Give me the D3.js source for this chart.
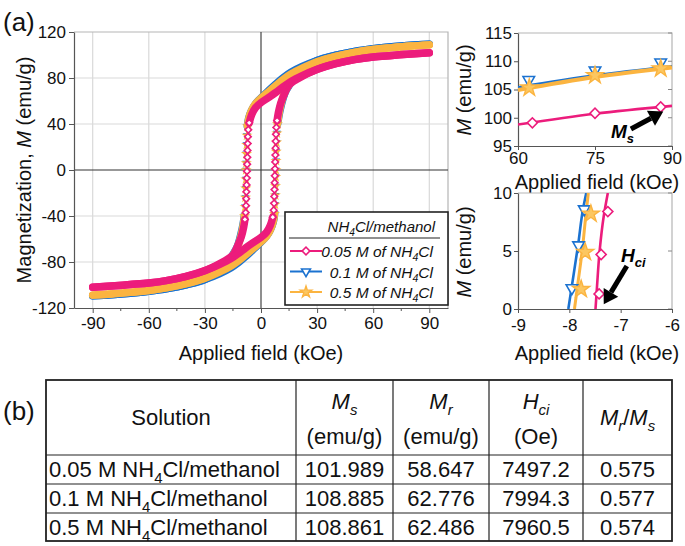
<!DOCTYPE html>
<html>
<head>
<meta charset="utf-8">
<script src="https://cdn.jsdelivr.net/npm/d3@7"></script>
<style>
  html, body { margin: 0; padding: 0; background: #fff; }
  svg { display: block; font-family: "Liberation Sans", Arial, sans-serif; }
</style>
</head>
<body>
<svg id="fig" width="685" height="546"></svg>
<script>
// ---- data ----
const seriesNames = ['0.05 M of NH4Cl', '0.1 M of NH4Cl', '0.5 M of NH4Cl'];
const fieldTicks = [-90, -60, -30, 0, 30, 60, 90];
const fieldMinor = [-75, -45, -15, 15, 45, 75];
const magTicks = [-120, -80, -40, 0, 40, 80, 120];

// main loop, [field kOe, M emu/g]; "desc" = field going down, "asc" = field going up
const pinkDesc = [[90,102.0],[80,100.9],[70,99.6],[60,98.3],[50,96.0],[40,92.5],[30,87.5],[22,82.0],[16,77.0],[12,72.5],[8,67.5],[4,63.0],[0,58.6],[-3,54.0],[-5,48.0],[-6.3,41.0],[-6.8,35.0],[-7.0,29.0],[-7.1,23.0],[-7.2,17.0],[-7.3,11.0],[-7.4,5.0],[-7.5,-1.0],[-7.6,-7.0],[-7.7,-13.0],[-7.8,-19.0],[-7.9,-25.0],[-8.0,-31.0],[-8.2,-37.0],[-8.6,-43.0],[-9.3,-50.0],[-10.5,-58.0],[-12.5,-66.0],[-15,-74.0],[-20,-79.5],[-30,-87.5],[-40,-92.5],[-50,-96.0],[-60,-98.3],[-70,-99.6],[-80,-100.9],[-90,-102.0]];
const pinkAsc = [[-90,-102.0],[-80,-100.9],[-70,-99.6],[-60,-98.3],[-50,-96.0],[-40,-92.5],[-30,-87.5],[-22,-82.0],[-16,-77.0],[-12,-72.5],[-8,-67.5],[-4,-63.0],[0,-58.6],[3,-54.0],[5,-48.0],[6.3,-41.0],[6.8,-35.0],[7.0,-29.0],[7.1,-23.0],[7.2,-17.0],[7.3,-11.0],[7.4,-5.0],[7.5,1.0],[7.6,7.0],[7.7,13.0],[7.8,19.0],[7.9,25.0],[8.0,31.0],[8.2,37.0],[8.6,43.0],[9.3,50.0],[10.5,58.0],[12.5,66.0],[15,74.0],[20,79.5],[30,87.5],[40,92.5],[50,96.0],[60,98.3],[70,99.6],[80,100.9],[90,102.0]];
const blueDesc = [[90,109.3],[80,108.4],[70,107.1],[60,105.4],[50,103.1],[40,99.8],[30,95.2],[22,90.0],[16,85.0],[12,80.5],[8,75.0],[4,69.0],[0,62.8],[-3,57.5],[-5,52.0],[-6.6,45.0],[-7.3,38.0],[-7.6,30.0],[-7.75,22.0],[-7.85,14.0],[-7.92,6.0],[-7.99,0.0],[-8.1,-8.0],[-8.2,-16.0],[-8.35,-24.0],[-8.55,-32.0],[-8.9,-40.0],[-9.7,-48.0],[-10.8,-56.0],[-12.8,-67.0],[-15.5,-74.5],[-20,-85.0],[-30,-95.2],[-40,-99.8],[-50,-103.1],[-60,-105.4],[-70,-107.1],[-80,-108.4],[-90,-109.3]];
const blueAsc = [[-90,-109.3],[-80,-108.4],[-70,-107.1],[-60,-105.4],[-50,-103.1],[-40,-99.8],[-30,-95.2],[-22,-90.0],[-16,-85.0],[-12,-80.5],[-8,-75.0],[-4,-69.0],[0,-62.8],[3,-57.5],[5,-52.0],[6.6,-45.0],[7.3,-38.0],[7.6,-30.0],[7.75,-22.0],[7.85,-14.0],[7.92,-6.0],[7.99,0.0],[8.1,8.0],[8.2,16.0],[8.35,24.0],[8.55,32.0],[8.9,40.0],[9.7,48.0],[10.8,56.0],[12.8,67.0],[15.5,74.5],[20,85.0],[30,95.2],[40,99.8],[50,103.1],[60,105.4],[70,107.1],[80,108.4],[90,109.3]];
const orangeDesc = [[90,108.8],[80,107.8],[70,106.4],[60,104.8],[50,102.3],[40,98.8],[30,94.0],[22,88.5],[16,83.5],[12,79.0],[8,73.5],[4,68.0],[0,62.5],[-3,57.5],[-5,52.0],[-6.5,45.0],[-7.2,38.0],[-7.5,30.0],[-7.65,22.0],[-7.75,14.0],[-7.85,6.0],[-7.96,0.0],[-8.05,-8.0],[-8.15,-16.0],[-8.3,-24.0],[-8.5,-32.0],[-8.8,-40.0],[-9.5,-48.0],[-10.5,-56.0],[-12.5,-67.0],[-15,-74.0],[-20,-84.0],[-30,-94.0],[-40,-98.8],[-50,-102.3],[-60,-104.8],[-70,-106.4],[-80,-107.8],[-90,-108.8]];
const orangeAsc = [[-90,-108.8],[-80,-107.8],[-70,-106.4],[-60,-104.8],[-50,-102.3],[-40,-98.8],[-30,-94.0],[-22,-88.5],[-16,-83.5],[-12,-79.0],[-8,-73.5],[-4,-68.0],[0,-62.5],[3,-57.5],[5,-52.0],[6.5,-45.0],[7.2,-38.0],[7.5,-30.0],[7.65,-22.0],[7.75,-14.0],[7.85,-6.0],[7.96,0.0],[8.05,8.0],[8.15,16.0],[8.3,24.0],[8.5,32.0],[8.8,40.0],[9.5,48.0],[10.5,56.0],[12.5,67.0],[15,74.0],[20,84.0],[30,94.0],[40,98.8],[50,102.3],[60,104.8],[70,106.4],[80,107.8],[90,108.8]];

// inset 1 (Ms), field 60-90 kOe
const msFieldTicks = [60, 75, 90];
const msTicks = [95, 100, 105, 110, 115];
const pinkMsLine = [[60,98.8],[75,100.7],[90,102.1]];
const pinkMsPts = [[62.8,99.1],[75,100.8],[87.8,101.9]];
const blueMsLine = [[60,105.4],[75,107.5],[90,109.1]];
const blueMsPts = [[62.1,106.7],[75,108.4],[87.8,109.8]];
const orangeMsLine = [[60,104.9],[75,107.2],[90,108.9]];
const orangeMsPts = [[62.2,105.3],[75,107.5],[87.8,108.7]];

// inset 2 (Hci), field -9 to -6 kOe
const hcFieldTicks = [-9, -8, -7, -6];
const hcTicks = [0, 5, 10];
const pinkHcLine = [[-7.49,0],[-7.46,2],[-7.41,5],[-7.33,8],[-7.25,10]];
const pinkHcPts = [[-7.42,1.3],[-7.38,4.7],[-7.25,8.4]];
const blueHcLine = [[-8.02,0],[-7.95,2],[-7.83,5.5],[-7.73,8.7],[-7.67,10]];
const blueHcPts = [[-7.95,1.8],[-7.82,5.5],[-7.71,8.6]];
const orangeHcLine = [[-7.9,0],[-7.84,2],[-7.75,5],[-7.68,8],[-7.63,10]];
const orangeHcPts = [[-7.77,1.7],[-7.69,4.9],[-7.58,8.2]];

// table (b)
const tableConc = ['0.05', '0.1', '0.5'];
const msValues = ['101.989', '108.885', '108.861'];
const mrValues = ['58.647', '62.776', '62.486'];
const hciValues = ['7497.2', '7994.3', '7960.5'];
const ratioValues = ['0.575', '0.577', '0.574'];

// ---- styling ----
const PINK = '#ec1c7c', BLUE = '#1b72d0', ORANGE = '#fbb440';
const FONT = '"Liberation Sans", Arial, sans-serif';
const plainNum = d => String(d);

const svg = d3.select('#fig');
svg.append('rect').attr('width', 685).attr('height', 546).attr('fill', '#fff');

// marker shapes
const diamondPath = d3.symbol(d3.symbolSquare, 30)();
const trianglePath = d3.symbol(d3.symbolTriangle, 34)();
const starPath = d3.symbol(d3.symbolStar, 40)();

function addMarker(g, kind, px, py, scale) {
    const s = scale || 1;
    if (kind === 'pink') {
        g.append('path').attr('d', diamondPath)
            .attr('transform', `translate(${px},${py}) rotate(45) scale(${s})`)
            .attr('fill', '#fff').attr('stroke', PINK).attr('stroke-width', 1.6 / s);
    } else if (kind === 'blue') {
        g.append('path').attr('d', trianglePath)
            .attr('transform', `translate(${px},${py}) rotate(180) scale(${s})`)
            .attr('fill', '#fff').attr('stroke', BLUE).attr('stroke-width', 1.6 / s);
    } else {
        g.append('path').attr('d', starPath)
            .attr('transform', `translate(${px},${py}) scale(${s})`)
            .attr('fill', '#fcc760').attr('stroke', ORANGE).attr('stroke-width', 1.4 / s);
    }
}

function subText(sel, before, sub, after, size) {
    sel.append('tspan').text(before);
    sel.append('tspan').attr('font-size', size * 0.68).attr('dy', size * 0.28).text(sub);
    sel.append('tspan').attr('dy', -size * 0.28).text(after);
}

function styleAxis(sel, size) {
    sel.selectAll('.domain').attr('stroke', '#555').attr('stroke-width', 1.2);
    sel.selectAll('.tick line').attr('stroke', '#555');
    sel.selectAll('.tick text').attr('fill', '#111').style('font-size', size + 'px').style('font-family', FONT);
}

// ================= main loop (a) =================
const x = d3.scaleLinear().domain([-100, 100]).range([74, 448]);
const y = d3.scaleLinear().domain([-120, 120]).range([308, 32]);
const main = svg.append('g');

// grid
main.selectAll('.vg').data(fieldTicks.filter(d => d !== 0)).join('line')
    .attr('x1', d => x(d)).attr('x2', d => x(d)).attr('y1', y(120)).attr('y2', y(-120))
    .attr('stroke', '#d9d9d9').attr('stroke-width', 1.2);
main.selectAll('.hg').data(magTicks.filter(d => d !== 0 && Math.abs(d) !== 120)).join('line')
    .attr('x1', x(-100)).attr('x2', x(100)).attr('y1', d => y(d)).attr('y2', d => y(d))
    .attr('stroke', '#d9d9d9').attr('stroke-width', 1.2);
// frame top/right
main.append('path').attr('d', `M${x(-100)},${y(120)}H${x(100)}V${y(-120)}`)
    .attr('fill', 'none').attr('stroke', '#b5b5b5').attr('stroke-width', 1.2);
// zero lines
main.append('line').attr('x1', x(0)).attr('x2', x(0)).attr('y1', y(120)).attr('y2', y(-120))
    .attr('stroke', '#333').attr('stroke-width', 1.1);
main.append('line').attr('x1', x(-100)).attr('x2', x(100)).attr('y1', y(0)).attr('y2', y(0))
    .attr('stroke', '#333').attr('stroke-width', 1.1);

// axes
const xAxisG = main.append('g').attr('transform', `translate(0,${y(-120)})`)
    .call(d3.axisBottom(x).tickValues(fieldTicks).tickFormat(plainNum).tickSize(5).tickPadding(4).tickSizeOuter(0));
styleAxis(xAxisG, 17);
main.append('g').attr('transform', `translate(0,${y(-120)})`)
    .selectAll('line').data(fieldMinor).join('line')
    .attr('x1', d => x(d)).attr('x2', d => x(d)).attr('y1', 0).attr('y2', 3).attr('stroke', '#555');
const yAxisG = main.append('g').attr('transform', `translate(${x(-100)},0)`)
    .call(d3.axisLeft(y).tickValues(magTicks).tickFormat(plainNum).tickSize(5).tickPadding(3).tickSizeOuter(0));
styleAxis(yAxisG, 17);

main.append('text').attr('x', x(0)).attr('y', 360).attr('text-anchor', 'middle')
    .style('font-size', '20px').attr('fill', '#111').text('Applied field (kOe)');
const yLab = main.append('text').attr('transform', `translate(31,${y(0)}) rotate(-90)`)
    .attr('text-anchor', 'middle').style('font-size', '20px').attr('fill', '#111');
yLab.append('tspan').text('Magnetization, ');
yLab.append('tspan').attr('font-style', 'italic').text('M');
yLab.append('tspan').text(' (emu/g)');

// loops
const loops = [
    { kind: 'blue', color: BLUE, size: 0.6, branches: [blueDesc, blueAsc] },
    { kind: 'orange', color: ORANGE, size: 0.6, branches: [orangeDesc, orangeAsc] },
    { kind: 'pink', color: PINK, size: 0.85, branches: [pinkDesc, pinkAsc] }
];
const bandLine = d3.line().x(d => x(d[0])).y(d => y(d[1]))
    .defined(d => Math.abs(d[1]) >= 38).curve(d3.curveCatmullRom.alpha(0.5));
const thinLine = d3.line().x(d => x(d[0])).y(d => y(d[1])).curve(d3.curveCatmullRom.alpha(0.5));

loops.forEach(s => {
    const g = main.append('g');
    s.branches.forEach(br => {
        g.append('path').datum(br).attr('d', bandLine).attr('fill', 'none')
            .attr('stroke', s.color).attr('stroke-width', 7.5)
            .attr('stroke-linejoin', 'round').attr('stroke-linecap', 'round');
        g.append('path').datum(br).attr('d', thinLine).attr('fill', 'none')
            .attr('stroke', s.color).attr('stroke-width', 1.8);
        br.filter(d => Math.abs(d[1]) < 45).forEach(d => addMarker(g, s.kind, x(d[0]), y(d[1]), s.size));
    });
});

// legend
const lg = main.append('g');
lg.append('rect').attr('x', 285).attr('y', 212).attr('width', 163).attr('height', 93)
    .attr('fill', '#fff').attr('stroke', '#222').attr('stroke-width', 1.6);
const lt = lg.append('text').attr('x', 435).attr('y', 232).attr('text-anchor', 'end')
    .style('font-size', '15px').attr('font-style', 'italic').attr('fill', '#111');
subText(lt, 'NH', '4', 'Cl/methanol', 15);
lg.append('line').attr('x1', 289).attr('x2', 440).attr('y1', 238).attr('y2', 238)
    .attr('stroke', '#222').attr('stroke-width', 1.2);
const legendKinds = [['pink', PINK], ['blue', BLUE], ['orange', ORANGE]];
seriesNames.forEach((name, i) => {
    const cy = 251 + i * 20.5;
    lg.append('line').attr('x1', 290).attr('x2', 322).attr('y1', cy).attr('y2', cy)
        .attr('stroke', legendKinds[i][1]).attr('stroke-width', 2);
    addMarker(lg, legendKinds[i][0], 306, cy, 1);
    const t = lg.append('text').attr('x', 433).attr('y', cy + 6).attr('text-anchor', 'end')
        .style('font-size', '15.5px').attr('font-style', 'italic').attr('fill', '#111');
    subText(t, name.replace('NH4Cl', 'NH'), '4', 'Cl', 15.5);
});

// panel labels
svg.append('text').attr('x', 3).attr('y', 31).style('font-size', '26px').attr('fill', '#111').text('(a)');
svg.append('text').attr('x', 3).attr('y', 420).style('font-size', '26px').attr('fill', '#111').text('(b)');

// ================= insets =================
function inset(opts) {
    const { xs, ys, xt, yt, labelY, titleY, name, pad } = opts;
    const g = svg.append('g');
    const [x0, x1] = xs.range(), [y0, y1] = ys.range();
    g.append('clipPath').attr('id', name).append('rect')
        .attr('x', x0).attr('y', y1).attr('width', x1 - x0).attr('height', y0 - y1);
    g.append('path').attr('d', `M${x0},${y1}H${x1}V${y0}`)
        .attr('fill', 'none').attr('stroke', '#b5b5b5').attr('stroke-width', 1.2);
    // mirror ticks on right side
    g.selectAll('.rt').data(yt).join('line')
        .attr('x1', x1).attr('x2', x1 - 4).attr('y1', d => ys(d)).attr('y2', d => ys(d)).attr('stroke', '#888');
    const ax = g.append('g').attr('transform', `translate(0,${y0})`)
        .call(d3.axisBottom(xs).tickValues(xt).tickFormat(plainNum).tickSize(4).tickPadding(pad).tickSizeOuter(0));
    styleAxis(ax, 17);
    const ay = g.append('g').attr('transform', `translate(${x0},0)`)
        .call(d3.axisLeft(ys).tickValues(yt).tickFormat(plainNum).tickSize(4).tickPadding(2).tickSizeOuter(0));
    styleAxis(ay, 17);
    g.append('text').attr('x', (x0 + x1) / 2 + 2).attr('y', titleY).attr('text-anchor', 'middle')
        .style('font-size', '20px').attr('fill', '#111').text('Applied field (kOe)');
    const yl = g.append('text').attr('transform', `translate(471,${labelY}) rotate(-90)`)
        .attr('text-anchor', 'middle').style('font-size', '20px').attr('fill', '#111');
    yl.append('tspan').attr('font-style', 'italic').text('M');
    yl.append('tspan').text(' (emu/g)');
    return g.append('g').attr('clip-path', `url(#${name})`);
}

const xs1 = d3.scaleLinear().domain([60, 90]).range([518, 672]);
const ys1 = d3.scaleLinear().domain([95, 115]).range([146, 33]);
const p1 = inset({ xs: xs1, ys: ys1, xt: msFieldTicks, yt: msTicks, labelY: 90, titleY: 189, name: 'clipMs', pad: 2 });
const l1 = d3.line().x(d => xs1(d[0])).y(d => ys1(d[1])).curve(d3.curveMonotoneX);
[[blueMsLine, BLUE, 2.6], [orangeMsLine, ORANGE, 4], [pinkMsLine, PINK, 2.6]].forEach(([ln, col, w]) => {
    p1.append('path').datum(ln).attr('d', l1).attr('fill', 'none').attr('stroke', col).attr('stroke-width', w);
});
[[blueMsPts, 'blue'], [orangeMsPts, 'orange'], [pinkMsPts, 'pink']].forEach(([pts, kind]) => {
    pts.forEach(d => addMarker(svg, kind, xs1(d[0]), ys1(d[1]), kind === 'orange' ? 1.5 : 1.3));
});

const xs2 = d3.scaleLinear().domain([-9, -6]).range([518, 672]);
const ys2 = d3.scaleLinear().domain([0, 10]).range([309, 193]);
const p2 = inset({ xs: xs2, ys: ys2, xt: hcFieldTicks, yt: hcTicks, labelY: 252, titleY: 360, name: 'clipHc', pad: 6 });
const l2 = d3.line().x(d => xs2(d[0])).y(d => ys2(d[1])).curve(d3.curveMonotoneY);
[[blueHcLine, BLUE, 2.6], [orangeHcLine, ORANGE, 3], [pinkHcLine, PINK, 2.6]].forEach(([ln, col, w]) => {
    p2.append('path').datum(ln).attr('d', l2).attr('fill', 'none').attr('stroke', col).attr('stroke-width', w);
});
[[blueHcPts, 'blue'], [orangeHcPts, 'orange'], [pinkHcPts, 'pink']].forEach(([pts, kind]) => {
    pts.forEach(d => addMarker(svg, kind, xs2(d[0]), ys2(d[1]), kind === 'orange' ? 1.5 : 1.3));
});

// arrows + labels
function arrow(xa, ya, xb, yb) {
    const ang = Math.atan2(yb - ya, xb - xa);
    const head = 14, half = 8.5;
    const bx = xb - head * Math.cos(ang), by = yb - head * Math.sin(ang);
    svg.append('line').attr('x1', xa).attr('y1', ya).attr('x2', bx).attr('y2', by)
        .attr('stroke', '#000').attr('stroke-width', 5);
    svg.append('path').attr('d', `M${xb},${yb}L${bx + half * Math.sin(ang)},${by - half * Math.cos(ang)}L${bx - half * Math.sin(ang)},${by + half * Math.cos(ang)}Z`)
        .attr('fill', '#000');
}
arrow(xs1(82.0), ys1(98.0), xs1(88.3), ys1(101.1));
arrow(xs2(-6.88), ys2(3.7), xs2(-7.33), ys2(0.4));

const msT = svg.append('text').attr('x', 611).attr('y', 138).style('font-size', '19px')
    .attr('font-weight', 'bold').attr('font-style', 'italic').attr('fill', '#000');
subText(msT, 'M', 's', '', 19);
const hcT = svg.append('text').attr('x', 621).attr('y', 262).style('font-size', '19px')
    .attr('font-weight', 'bold').attr('font-style', 'italic').attr('fill', '#000');
subText(hcT, 'H', 'ci', '', 19);

// ================= table (b) =================
const colEdges = [46, 296, 393, 489, 583, 672];
const rowEdges = [380, 455, 484, 513, 541];
const tb = svg.append('g');
tb.append('rect').attr('x', colEdges[0]).attr('y', rowEdges[0])
    .attr('width', colEdges[5] - colEdges[0]).attr('height', rowEdges[4] - rowEdges[0])
    .attr('fill', 'none').attr('stroke', '#222').attr('stroke-width', 1.8);
colEdges.slice(1, 5).forEach(cx => tb.append('line').attr('x1', cx).attr('x2', cx)
    .attr('y1', rowEdges[0]).attr('y2', rowEdges[4]).attr('stroke', '#222').attr('stroke-width', 1.2));
rowEdges.slice(1, 4).forEach(ry => tb.append('line').attr('x1', colEdges[0]).attr('x2', colEdges[5])
    .attr('y1', ry).attr('y2', ry).attr('stroke', '#222').attr('stroke-width', 1.2));

const colMid = i => (colEdges[i] + colEdges[i + 1]) / 2;
const TS = 22;
function cellText(cx, cy, anchor) {
    return tb.append('text').attr('x', cx).attr('y', cy).attr('text-anchor', anchor || 'middle')
        .style('font-size', TS + 'px').attr('fill', '#111');
}
// header
cellText(colMid(0), 425).text('Solution');
[['M', 's', '(emu/g)'], ['M', 'r', '(emu/g)'], ['H', 'ci', '(Oe)']].forEach((h, i) => {
    const t = cellText(colMid(i + 1), 409);
    t.append('tspan').attr('font-style', 'italic').text(h[0]);
    t.append('tspan').attr('font-style', 'italic').attr('font-size', TS * 0.68).attr('dy', TS * 0.28).text(h[1]);
    cellText(colMid(i + 1), 444).text(h[2]);
});
const rt = cellText(colMid(4), 425);
rt.append('tspan').attr('font-style', 'italic').text('M');
rt.append('tspan').attr('font-style', 'italic').attr('font-size', TS * 0.68).attr('dy', TS * 0.28).text('r');
rt.append('tspan').attr('dy', -TS * 0.28).text('/');
rt.append('tspan').attr('font-style', 'italic').text('M');
rt.append('tspan').attr('font-style', 'italic').attr('font-size', TS * 0.68).attr('dy', TS * 0.28).text('s');

tableConc.forEach((c, r) => {
    const base = rowEdges[r + 1] + 22;
    subText(cellText(colEdges[0] + 3, base, 'start'), c + ' M NH', '4', 'Cl/methanol', TS);
    cellText(colMid(1), base).text(msValues[r]);
    cellText(colMid(2), base).text(mrValues[r]);
    cellText(colMid(3), base).text(hciValues[r]);
    cellText(colMid(4), base).text(ratioValues[r]);
});
</script>
</body>
</html>
